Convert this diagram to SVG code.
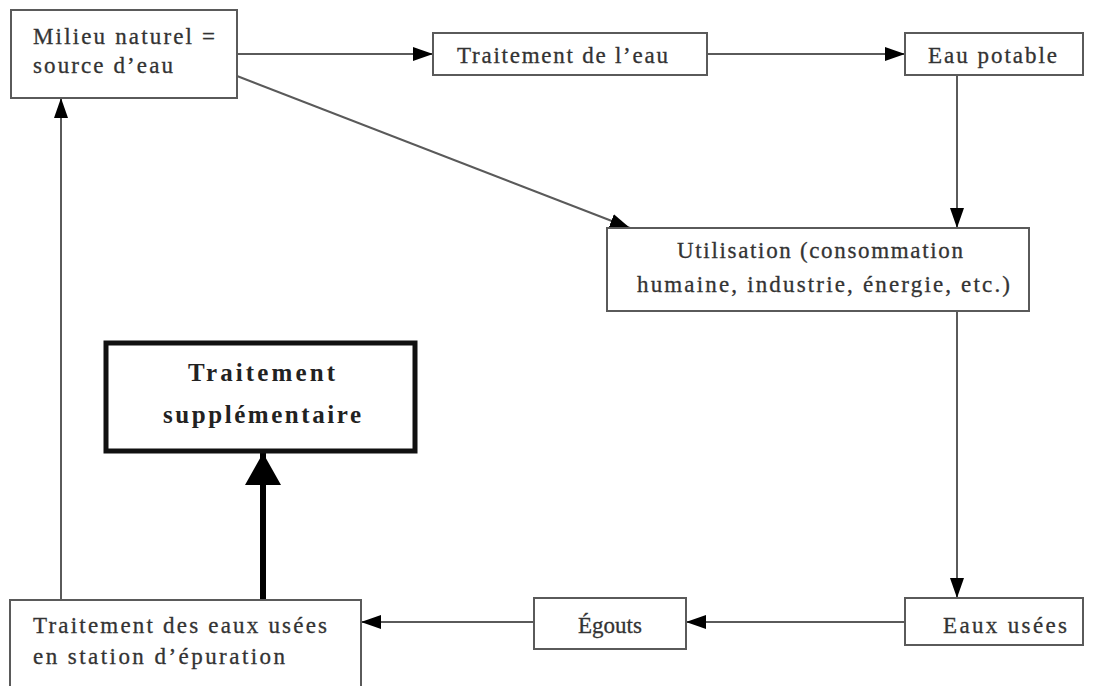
<svg xmlns="http://www.w3.org/2000/svg" width="1095" height="686" viewBox="0 0 1095 686">
<style>
.box{fill:#fff;stroke:#5a5a5a;stroke-width:2}
.bold{fill:#fff;stroke:#111;stroke-width:5}
.t{font-family:"Liberation Serif","Times New Roman",serif;font-size:23px;fill:#333;stroke:#333;stroke-width:0.3}
.tb{font-family:"Liberation Serif","Times New Roman",serif;font-size:25px;font-weight:bold;fill:#222}
.ln{fill:none;stroke:#5a5a5a;stroke-width:2}
.thick{fill:none;stroke:#000;stroke-width:6}
</style>
<defs>
<marker id="ah" viewBox="0 0 20 14" refX="20" refY="7" markerWidth="20" markerHeight="14" markerUnits="userSpaceOnUse" orient="auto">
<path d="M0,0 L20,7 L0,14 Z" fill="#000"/>
</marker>
<marker id="ahb" viewBox="0 0 32 36" refX="32" refY="18" markerWidth="32" markerHeight="36" markerUnits="userSpaceOnUse" orient="auto">
<path d="M0,0 L32,18 L0,36 Z" fill="#000"/>
</marker>
</defs>
<rect width="1095" height="686" fill="#fff"/>
<g id="connectors">
<line class="ln" x1="237" y1="54" x2="433" y2="54" marker-end="url(#ah)"/>
<line class="ln" x1="707" y1="54" x2="905" y2="54" marker-end="url(#ah)"/>
<line class="ln" x1="957" y1="75" x2="957" y2="228" marker-end="url(#ah)"/>
<line class="ln" x1="237" y1="76" x2="630" y2="228" marker-end="url(#ah)"/>
<line class="ln" x1="957" y1="311" x2="957" y2="598" marker-end="url(#ah)"/>
<line class="ln" x1="905" y1="622" x2="686" y2="622" marker-end="url(#ah)"/>
<line class="ln" x1="534" y1="622" x2="361" y2="622" marker-end="url(#ah)"/>
<line class="ln" x1="61" y1="600" x2="61" y2="98" marker-end="url(#ah)"/>
<line class="thick" x1="263" y1="603" x2="263" y2="453" marker-end="url(#ahb)"/>
</g>
<g id="milieu">
<rect class="box" x="11" y="10" width="226" height="88"/>
<text class="t" x="33" y="44" textLength="182" lengthAdjust="spacing">Milieu naturel =</text>
<text class="t" x="33" y="73" textLength="140" lengthAdjust="spacing">source d’eau</text>
</g>
<g id="traitement-eau">
<rect class="box" x="433" y="33" width="274" height="42"/>
<text class="t" x="457" y="63" textLength="211" lengthAdjust="spacing">Traitement de l’eau</text>
</g>
<g id="eau-potable">
<rect class="box" x="905" y="33" width="178" height="42"/>
<text class="t" x="928" y="63" textLength="129" lengthAdjust="spacing">Eau potable</text>
</g>
<g id="utilisation">
<rect class="box" x="607" y="228" width="422" height="83"/>
<text class="t" x="677" y="258" textLength="286" lengthAdjust="spacing">Utilisation (consommation</text>
<text class="t" x="637" y="292" textLength="373" lengthAdjust="spacing">humaine, industrie, énergie, etc.)</text>
</g>
<g id="traitement-supp">
<rect class="bold" x="106" y="343" width="309" height="108"/>
<text class="tb" x="188" y="381" textLength="147" lengthAdjust="spacing">Traitement</text>
<text class="tb" x="163" y="423" textLength="198" lengthAdjust="spacing">supplémentaire</text>
</g>
<g id="station">
<rect class="box" x="10" y="600" width="351" height="90"/>
<text class="t" x="33" y="633" textLength="294" lengthAdjust="spacing">Traitement des eaux usées</text>
<text class="t" x="33" y="664" textLength="252" lengthAdjust="spacing">en station d’épuration</text>
</g>
<g id="egouts">
<rect class="box" x="534" y="598" width="152" height="51"/>
<text class="t" x="610" y="633" text-anchor="middle">Égouts</text>
</g>
<g id="eaux-usees">
<rect class="box" x="905" y="598" width="178" height="47"/>
<text class="t" x="943" y="633" textLength="124" lengthAdjust="spacing">Eaux usées</text>
</g>
</svg>
